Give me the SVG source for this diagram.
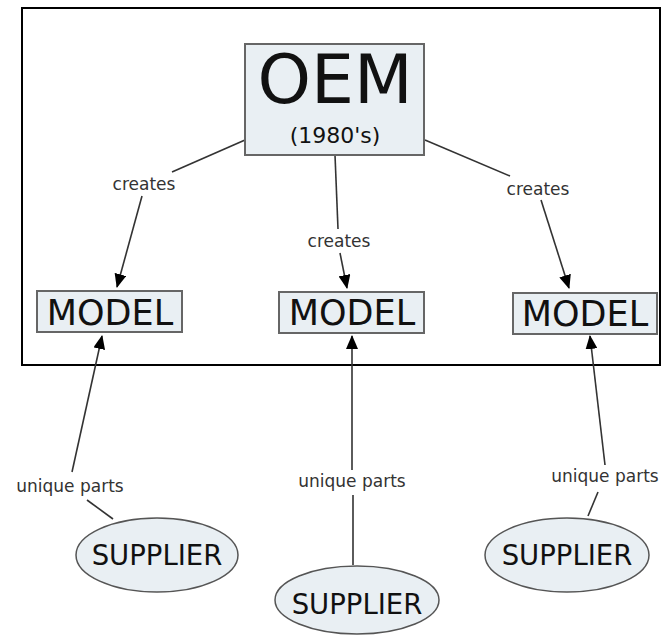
<svg xmlns="http://www.w3.org/2000/svg" width="664" height="635" viewBox="0 0 664 635">
<style>
.box{fill:#e9eff3;stroke:#666;stroke-width:2}
.ell{fill:#e9eff3;stroke:#555;stroke-width:1.5}
.t{font-family:"DejaVu Sans",Verdana,sans-serif;fill:#111;text-anchor:middle}
.lbl{font-family:"DejaVu Sans",Verdana,sans-serif;fill:#333;text-anchor:middle;font-size:17px}
.c{stroke:#333;stroke-width:1.6;fill:none}
</style>
<defs>
<marker id="ah" markerUnits="userSpaceOnUse" markerWidth="14" markerHeight="12" refX="13" refY="6" orient="auto">
<path d="M0,0 L14,6 L0,12 Z" fill="#000"/>
</marker>
</defs>
<rect x="22" y="8" width="638" height="357" fill="none" stroke="#000" stroke-width="2"/>
<g id="connectors">
<line class="c" x1="245" y1="140" x2="172" y2="172"/>
<line class="c" x1="142" y1="196" x2="117" y2="287" marker-end="url(#ah)"/>
<line class="c" x1="335" y1="155" x2="338" y2="229"/>
<line class="c" x1="340" y1="253" x2="347" y2="288" marker-end="url(#ah)"/>
<line class="c" x1="425" y1="140" x2="510" y2="176"/>
<line class="c" x1="541" y1="200" x2="569" y2="288" marker-end="url(#ah)"/>
<line class="c" x1="113" y1="519" x2="87" y2="500"/>
<line class="c" x1="72" y1="472" x2="102" y2="336" marker-end="url(#ah)"/>
<line class="c" x1="353" y1="565" x2="353" y2="495"/>
<line class="c" x1="352" y1="470" x2="352" y2="336" marker-end="url(#ah)"/>
<line class="c" x1="588" y1="516" x2="598" y2="492"/>
<line class="c" x1="605" y1="465" x2="590" y2="336" marker-end="url(#ah)"/>
</g>
<g id="oem">
<rect class="box" x="245" y="44" width="179" height="111"/>
<text class="t" x="335" y="103" font-size="68">OEM</text>
<text class="t" x="335" y="143" font-size="22" fill="#333">(1980's)</text>
</g>
<g id="model1">
<rect class="box" x="37" y="291" width="145" height="41"/>
<text class="t" x="110" y="325" font-size="35">MODEL</text>
</g>
<g id="model2">
<rect class="box" x="279" y="292" width="145" height="41"/>
<text class="t" x="352" y="325" font-size="35">MODEL</text>
</g>
<g id="model3">
<rect class="box" x="513" y="293" width="144" height="41"/>
<text class="t" x="585" y="326" font-size="35">MODEL</text>
</g>
<g id="supplier1">
<ellipse class="ell" cx="157" cy="555" rx="81" ry="37"/>
<text class="t" x="157" y="565" font-size="27.5">SUPPLIER</text>
</g>
<g id="supplier2">
<ellipse class="ell" cx="357" cy="600" rx="82" ry="34"/>
<text class="t" x="357" y="614" font-size="27.5">SUPPLIER</text>
</g>
<g id="supplier3">
<ellipse class="ell" cx="567" cy="555" rx="82" ry="37"/>
<text class="t" x="567" y="565" font-size="27.5">SUPPLIER</text>
</g>
<g id="labels">
<text class="lbl" x="144" y="190">creates</text>
<text class="lbl" x="339" y="247">creates</text>
<text class="lbl" x="538" y="195">creates</text>
<text class="lbl" x="70" y="492">unique parts</text>
<text class="lbl" x="352" y="487">unique parts</text>
<text class="lbl" x="605" y="482">unique parts</text>
</g>
</svg>
